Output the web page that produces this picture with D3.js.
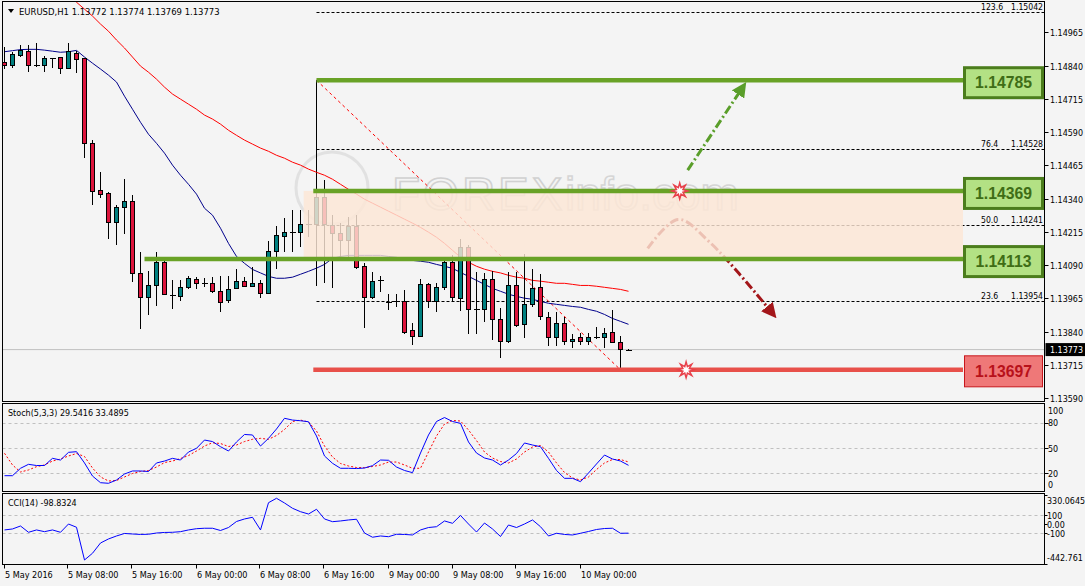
<!DOCTYPE html>
<html><head><meta charset="utf-8">
<script src="https://cdn.jsdelivr.net/npm/d3@7/dist/d3.min.js"></script>
<style>
html,body{margin:0;padding:0;background:#f4f4f4;}
svg{display:block;font-family:"DejaVu Sans Condensed","Liberation Sans",Arial,sans-serif;}
.box{font-family:"Liberation Sans",Arial,sans-serif;}
</style></head><body>
<svg id="c" width="1085" height="586"></svg>
<script>
// ---------------- DATA ----------------
const symbol = "EURUSD,H1";
const lastOHLC = ["1.13772", "1.13774", "1.13769", "1.13773"];
const stochTitle = "Stoch(5,3,3)", stochLast = ["29.5416", "33.4895"];
const cciTitle = "CCI(14)", cciLast = "-98.8324";
const open = [1.14853,1.14842,1.14879,1.14894,1.14842,1.14842,1.14868,1.14872,1.14830,1.14887,
 1.14868,1.14548,1.14372,1.14360,1.14251,1.14308,1.14330,1.14060,1.13969,1.14014,
 1.14101,1.13978,1.13973,1.14007,1.14037,1.14022,1.14022,1.13992,1.13958,1.14003,
 1.14029,1.14011,1.14022,1.13984,1.14142,1.14199,1.14214,1.14214,1.14244,1.14244,
 1.14345,1.14240,1.14210,1.14184,1.14236,1.14086,1.13969,1.14033,1.13951,1.13954,
 1.13954,1.13845,1.13823,1.14018,1.13954,1.14007,1.14101,1.13966,1.14157,1.13924,
 1.13924,1.14037,1.13887,1.13804,1.14014,1.13868,1.13943,1.14007,1.13894,1.13819,
 1.13872,1.13804,1.13819,1.13804,1.13819,1.13819,1.13838,1.13800,1.13772];
const high = [1.14909,1.14891,1.14917,1.14917,1.14924,1.14875,1.14869,1.14873,1.14924,1.14894,
 1.14869,1.14560,1.14439,1.14364,1.14315,1.14413,1.14353,1.14139,1.14067,1.14139,
 1.14112,1.14033,1.14033,1.14048,1.14045,1.14041,1.14045,1.14048,1.14048,1.14075,
 1.14045,1.14082,1.14033,1.14180,1.14236,1.14266,1.14296,1.14296,1.14296,1.14398,
 1.14409,1.14278,1.14248,1.14270,1.14278,1.14097,1.14063,1.14048,1.13981,1.13981,
 1.13996,1.13872,1.14037,1.14022,1.14022,1.14116,1.14127,1.14187,1.14165,1.14063,
 1.14060,1.14067,1.13928,1.14063,1.14063,1.14131,1.14075,1.14056,1.13913,1.13913,
 1.13894,1.13830,1.13834,1.13834,1.13857,1.13853,1.13920,1.13823,1.13774];
const low = [1.14827,1.14830,1.14872,1.14815,1.14834,1.14815,1.14831,1.14808,1.14828,1.14812,
 1.14492,1.14315,1.14342,1.14187,1.14165,1.14206,1.14026,1.13849,1.13902,1.13935,
 1.13977,1.13924,1.13954,1.13999,1.13999,1.14007,1.13984,1.13913,1.13947,1.13999,
 1.14007,1.14007,1.13966,1.13983,1.14075,1.14139,1.14139,1.14157,1.14195,1.14011,
 1.14022,1.14003,1.14116,1.14116,1.14075,1.13853,1.13962,1.13988,1.13920,1.13932,
 1.13830,1.13789,1.13819,1.13928,1.13913,1.13996,1.13954,1.13917,1.13830,1.13830,
 1.13875,1.13808,1.13740,1.13796,1.13857,1.13815,1.13932,1.13883,1.13785,1.13785,
 1.13789,1.13778,1.13789,1.13789,1.13811,1.13778,1.13800,1.13702,1.13769];
const close = [1.14842,1.14883,1.14898,1.14842,1.14841,1.14868,1.14867,1.14830,1.14891,1.14864,
 1.14548,1.14368,1.14357,1.14251,1.14308,1.14330,1.14060,1.13969,1.14014,1.14101,
 1.13979,1.13978,1.14007,1.14041,1.14022,1.14021,1.13992,1.13951,1.13999,1.14029,
 1.14011,1.14022,1.13984,1.14142,1.14202,1.14214,1.14213,1.14244,1.14243,1.14345,
 1.14244,1.14210,1.14184,1.14236,1.14082,1.13969,1.14029,1.14032,1.13950,1.13953,
 1.13838,1.13823,1.14018,1.13954,1.14007,1.14101,1.13969,1.14157,1.13924,1.13923,
 1.14037,1.13887,1.13804,1.14014,1.13864,1.13943,1.14003,1.13898,1.13819,1.13872,
 1.13804,1.13811,1.13804,1.13819,1.13818,1.13834,1.13800,1.13774,1.13773];
const maFast = [1.14892,1.14896,1.14900,1.14901,1.14901,1.14898,1.14894,1.14890,1.14892,1.14897,
 1.14872,1.14849,1.14827,1.14804,1.14778,1.14725,1.14676,1.14627,1.14582,1.14548,
 1.14511,1.14466,1.14428,1.14394,1.14357,1.14304,1.14278,1.14229,1.14172,1.14123,
 1.14097,1.14074,1.14061,1.14048,1.14041,1.14041,1.14045,1.14056,1.14067,1.14079,
 1.14093,1.14116,1.14123,1.14127,1.14127,1.14127,1.14127,1.14127,1.14123,1.14120,
 1.14112,1.14108,1.14105,1.14101,1.14093,1.14086,1.14078,1.14063,1.14048,1.14033,
 1.14018,1.14003,1.13992,1.13981,1.13973,1.13966,1.13962,1.13954,1.13947,1.13943,
 1.13939,1.13935,1.13932,1.13924,1.13917,1.13905,1.13890,1.13879,1.13868];
const maSlow = [null,null,null,null,null,null,null,null,1.15105,1.15078,
 1.15052,1.15026,1.14996,1.14969,1.14936,1.14906,1.14872,1.14838,1.14815,1.14789,
 1.14759,1.14733,1.14714,1.14695,1.14676,1.14654,1.14639,1.14620,1.14597,1.14578,
 1.14560,1.14545,1.14530,1.14518,1.14503,1.14492,1.14477,1.14466,1.14451,1.14439,
 1.14428,1.14413,1.14394,1.14375,1.14357,1.14338,1.14323,1.14308,1.14293,1.14278,
 1.14263,1.14248,1.14232,1.14214,1.14195,1.14172,1.14146,1.14120,1.14101,1.14086,
 1.14075,1.14067,1.14061,1.14052,1.14045,1.14041,1.14033,1.14030,1.14026,1.14022,
 1.14022,1.14018,1.14014,1.14014,1.14011,1.14007,1.14003,1.13999,1.13992];
const stochK = [17.2,17.2,26.0,30.7,29.3,29.3,37.8,35.8,44.9,45.7,
 32.3,16.8,8.9,8.2,12.1,19.2,22.8,22.8,22.2,32.3,
 34.6,37.8,35.8,45.3,49.7,59.5,57.7,51.6,46.5,57.2,
 66.1,65.5,52.4,61.5,72.6,85.3,83.2,82.4,81.2,64.3,
 40.6,31.9,26.0,26.0,25.7,26.3,29.1,35.8,35.5,27.5,
 23.4,20.8,44.1,65.5,81.5,86.2,81.5,79.3,57.2,44.1,
 38.2,35.8,29.9,35.8,43.5,56.0,53.6,51.6,37.8,23.4,
 14.1,14.1,10.1,20.4,31.1,41.7,37.0,34.6,29.54];
const stochD = [43.8,29.9,21.6,24.0,27.9,29.9,34.6,37.0,40.6,43.5,
 40.0,26.3,15.7,10.9,11.5,15.7,19.8,22.2,23.4,27.5,
 32.8,34.6,37.6,41.1,46.5,52.4,56.3,55.4,51.8,53.6,
 57.7,60.4,61.5,60.4,64.9,72.0,81.5,83.2,80.9,70.2,
 52.4,39.4,31.7,28.7,26.9,26.7,28.1,29.9,33.4,33.4,
 29.9,26.0,26.0,45.3,64.3,78.5,82.7,82.1,71.4,58.9,
 45.3,38.2,34.0,32.3,37.0,45.3,51.2,53.0,45.3,32.3,
 21.0,14.5,12.1,15.7,24.5,32.3,36.4,36.4,33.49];
const cci = [-63,-52,-19,-89,-63,-82,-63,-89,3,-33,
 -397,-322,-208,-163,-130,-102,-108,-113,-111,-97,
 -91,-89,-82,-63,-49,-44,-44,-69,-36,31,
 59,78,-63,240,289,237,178,140,114,167,
 59,29,37,48,56,-97,-144,-130,-138,-111,
 -113,-119,-63,-36,-27,37,11,98,3,-86,
 14,-52,-136,-8,-36,3,48,-27,-130,-100,
 -113,-119,-100,-80,-58,-47,-44,-100,-98.83];
const timeLabels = ["5 May 2016","5 May 08:00","5 May 16:00","6 May 00:00","6 May 08:00",
 "6 May 16:00","9 May 00:00","9 May 08:00","9 May 16:00","10 May 00:00"];
const timeLabelBars = [0,8,16,24,32,40,48,56,64,72];
const priceTicks = [1.14965,1.14840,1.14715,1.14590,1.14465,1.14340,1.14215,1.14090,1.13965,1.13840,1.13715,1.13590];
const fibLevels = ["123.6","76.4","50.0","23.6"];
const fibPrices = [1.15042,1.14528,1.14241,1.13954];
const fibAnchorBars = [39, 77];
const fibAnchorPrices = [1.14785, 1.13697];
const keyLevels = [1.14785, 1.14369, 1.14113, 1.13697];
const keyLevelStartBars = [39, 38.6, 17.5, 38.6];
const keyLevelKind = ["res","res","res","sup"];
const zoneTop = 1.14369, zoneBottom = 1.14113, zoneStartBar = 37.4;
const stochTicks = [100,80,50,20,0];
const stochLevels = [80,50,20];
const cciTickLabels = ["330.0645","100","0.00","-100","-442.761"];
const cciTickValues = [330.0645,100,0,-100,-442.761];
const cciLevels = [100,-100];
const upArrowBars = [85.4, 92.2], upArrowPrices = [1.14447, 1.14755];
const downArcBars = [80.4, 84.2, 88.2, 95.9], downArcPrices = [1.14153, 1.14262, 1.14175, 1.13913];
const starBars = [84.4, 85.2], starPrices = [1.14369, 1.13697];

// ---------------- LAYOUT ----------------
const svg = d3.select("#c");
const L = 2.5, R = 1044.5;
const main = {top: 1.5, bottom: 401.5};
const st = {top: 403.5, bottom: 491.5};
const cc = {top: 493.5, bottom: 564.5};
const N = open.length;
const x = d3.scaleLinear().domain([0, N - 1]).range([4.5, 4.5 + 8 * (N - 1)]);
const y = d3.scaleLinear().domain([1.13590, 1.14965]).range([398.3, 32.3]);
const ys = d3.scaleLinear().domain([0, 100]).range([490.2, 405.9]);
const yc = d3.scaleLinear().domain([-442.761, 330.0645]).range([564.1, 494.6]);
const boxLeft = 963;

// font size that makes a sample string reach a target width
function fitSize(str, target, weight, cls) {
  const t = svg.append("text").attr("font-size", 20).attr("font-weight", weight || "normal").attr("class", cls || null).text(str);
  const w = t.node().getComputedTextLength();
  t.remove();
  return 20 * target / w;
}
const fsTitle = fitSize(symbol + "  " + lastOHLC.join(" "), 201);
const fsInd = fitSize(stochTitle + " " + stochLast.join(" "), 121);
const fsAxis = fitSize("1.14965", 33);
const fsTime = fitSize("5 May 08:00", 50.5);
const fsFib = fitSize("1.15042", 32);
const fsBox = fitSize("1.14785", 57, "bold", "box");

svg.append("rect").attr("width", 1085).attr("height", 586).attr("fill", "#f4f4f4");
const defs = svg.append("defs");
[["clipMain", main], ["clipSt", st], ["clipCc", cc]].forEach(([id, p]) => {
  defs.append("clipPath").attr("id", id).append("rect")
    .attr("x", L).attr("y", p.top).attr("width", R - L).attr("height", p.bottom - p.top);
});
defs.append("marker").attr("id", "arrG").attr("viewBox", "0 0 10 10").attr("refX", 5).attr("refY", 5)
  .attr("markerWidth", 5).attr("markerHeight", 5).attr("orient", "auto")
  .append("path").attr("d", "M0,0L10,5L0,10z").attr("fill", "#5a9e2a");
defs.append("marker").attr("id", "arrR").attr("viewBox", "0 0 10 10").attr("refX", 5).attr("refY", 5)
  .attr("markerWidth", 5).attr("markerHeight", 5).attr("orient", "auto")
  .append("path").attr("d", "M0,0L10,5L0,10z").attr("fill", "#a3161a");

const gm = svg.append("g").attr("clip-path", "url(#clipMain)");

// watermark
const wm = gm.append("g").attr("opacity", 0.5).attr("class", "box");
wm.append("circle").attr("cx", 332).attr("cy", 188).attr("r", 36).attr("fill", "none").attr("stroke", "#d0d0d0").attr("stroke-width", 3);
wm.append("text").attr("x", 392).attr("y", 210).attr("font-size", 46)
  .attr("fill", "none").attr("stroke", "#b0b0b0").attr("stroke-width", 1.6).attr("letter-spacing", 3)
  .text("FOREX");
wm.append("text").attr("x", 565).attr("y", 210).attr("font-size", 46)
  .attr("fill", "none").attr("stroke", "#b8b8b8").attr("stroke-width", 1.6)
  .text("info.com");

// bid line
gm.append("line").attr("x1", L).attr("x2", R).attr("y1", y(+lastOHLC[3])).attr("y2", y(+lastOHLC[3]))
  .attr("stroke", "#c0c0c0").attr("stroke-width", 1);

// fib dashed lines (drawn under zone)
const fibG = gm.append("g");
fibPrices.forEach((p) => {
  const yy = Math.round(y(p)) + 0.5;
  fibG.append("line").attr("x1", x(fibAnchorBars[0])).attr("x2", R).attr("y1", yy).attr("y2", yy)
    .attr("stroke", "#000").attr("stroke-dasharray", "3,2");
});
fibG.append("line").attr("x1", x(fibAnchorBars[0])).attr("x2", x(fibAnchorBars[1]))
  .attr("y1", y(fibAnchorPrices[0])).attr("y2", y(fibAnchorPrices[1]))
  .attr("stroke", "#ff0000").attr("stroke-dasharray", "3,3");
fibG.append("line").attr("x1", Math.round(x(fibAnchorBars[0])) - 0.5).attr("x2", Math.round(x(fibAnchorBars[0])) - 0.5)
  .attr("y1", y(fibAnchorPrices[0])).attr("y2", y(zoneTop)).attr("stroke", "#000");

// moving averages
const line = d3.line().defined(d => d != null).x((d, i) => x(i)).y(d => y(d));
gm.append("path").attr("d", line(maSlow)).attr("fill", "none").attr("stroke", "#ff0000").attr("stroke-width", 1);
gm.append("path").attr("d", line(maFast)).attr("fill", "none").attr("stroke", "#00008b").attr("stroke-width", 1);

// candles
const cg = gm.append("g").attr("shape-rendering", "crispEdges");
d3.range(N).forEach(i => {
  const cx = x(i);
  cg.append("line").attr("x1", cx).attr("x2", cx).attr("y1", y(high[i])).attr("y2", y(low[i])).attr("stroke", "#000");
  const yo = y(open[i]), yc2 = y(close[i]);
  if (Math.abs(yo - yc2) < 1.2) {
    cg.append("line").attr("x1", cx - 3).attr("x2", cx + 3).attr("y1", Math.round(yo) + 0.5).attr("y2", Math.round(yo) + 0.5)
      .attr("stroke", "#000").attr("stroke-width", 1.5);
  } else {
    cg.append("rect").attr("x", cx - 2).attr("width", 4)
      .attr("y", Math.min(yo, yc2)).attr("height", Math.abs(yo - yc2))
      .attr("fill", close[i] > open[i] ? "#008080" : "#dc143c").attr("stroke", "#000");
  }
});

// down arrow (partly under the zone)
const arcLine = d3.line().curve(d3.curveCatmullRom).x(d => x(d[0])).y(d => y(d[1]));
gm.append("path").attr("d", arcLine(downArcBars.map((b, i) => [b, downArcPrices[i]])))
  .attr("fill", "none").attr("stroke", "#a3161a").attr("stroke-width", 3)
  .attr("stroke-dasharray", "9,3,2,3").attr("marker-end", "url(#arrR)");

// zone overlay
gm.append("rect").attr("x", x(zoneStartBar)).attr("width", boxLeft - x(zoneStartBar))
  .attr("y", y(zoneTop)).attr("height", y(zoneBottom) - y(zoneTop))
  .attr("fill", "#fce6d6").attr("opacity", 0.82);

gm.append("line").attr("x1", x(upArrowBars[0])).attr("y1", y(upArrowPrices[0]))
  .attr("x2", x(upArrowBars[1])).attr("y2", y(upArrowPrices[1]))
  .attr("stroke", "#5a9e2a").attr("stroke-width", 3).attr("stroke-dasharray", "9,3,2,3")
  .attr("marker-end", "url(#arrG)");

// key levels
keyLevels.forEach((p, i) => {
  gm.append("line").attr("x1", x(keyLevelStartBars[i])).attr("x2", boxLeft)
    .attr("y1", y(p)).attr("y2", y(p))
    .attr("stroke", keyLevelKind[i] === "res" ? "#69a226" : "#e8504a").attr("stroke-width", 4.5);
});

// stars
function star(cx, cy) {
  const pts = d3.range(16).map(k => {
    const a = k * Math.PI / 8, r = k % 2 ? 3.5 : 8;
    return [cx + r * Math.cos(a), cy + r * Math.sin(a)];
  });
  gm.append("path").attr("d", "M" + pts.join("L") + "Z").attr("fill", "#fff").attr("stroke", "#e8404a").attr("stroke-width", 1.5);
}
starBars.forEach((b, i) => star(x(b), y(starPrices[i])));

// fib labels
fibPrices.forEach((p, i) => {
  const yy = Math.round(y(p)) - 2;
  svg.append("text").attr("x", 981).attr("y", yy).attr("font-size", fsFib).attr("fill", "#000").text(fibLevels[i]);
  svg.append("text").attr("x", 1043).attr("y", yy).attr("font-size", fsFib).attr("text-anchor", "end").attr("fill", "#000").text(p.toFixed(5));
});

// level boxes
keyLevels.forEach((p, i) => {
  const cy = y(p) + 2;
  const g = svg.append("g").attr("class", "box");
  if (keyLevelKind[i] === "res") {
    g.append("rect").attr("x", boxLeft + 1.5).attr("y", cy - 14.5).attr("width", 78).attr("height", 30)
      .attr("fill", "#b3e184").attr("stroke", "#4b7d1c").attr("stroke-width", 3);
    g.append("text").attr("x", boxLeft + 40.5).attr("y", cy + 6).attr("text-anchor", "middle")
      .attr("font-size", fsBox).attr("font-weight", "bold").attr("fill", "#3f6d16").text(p.toFixed(5));
  } else {
    g.append("rect").attr("x", boxLeft + 1.5).attr("y", cy - 16).attr("width", 78).attr("height", 31)
      .attr("fill", "#ef7878").attr("stroke", "#c8161c").attr("stroke-width", 1);
    g.append("text").attr("x", boxLeft + 40.5).attr("y", cy + 5).attr("text-anchor", "middle")
      .attr("font-size", fsBox).attr("font-weight", "bold").attr("fill", "#b8111a").text(p.toFixed(5));
  }
});

// title
svg.append("path").attr("d", "M8,9L14,9L11,13Z").attr("fill", "#000");
svg.append("text").attr("x", 19).attr("y", 15).attr("font-size", fsTitle).attr("fill", "#000")
  .text(symbol + "  " + lastOHLC.join(" "));

// price axis
priceTicks.forEach(p => {
  const yy = Math.round(y(p)) + 0.5;
  svg.append("line").attr("x1", R).attr("x2", R + 4).attr("y1", yy).attr("y2", yy).attr("stroke", "#000");
  svg.append("text").attr("x", 1050).attr("y", yy + 3.5).attr("font-size", fsAxis).attr("fill", "#000").text(p.toFixed(5));
});
const by = y(+lastOHLC[3]);
svg.append("rect").attr("x", R + 1).attr("y", by - 6.5).attr("width", 1085 - R).attr("height", 13).attr("fill", "#000");
svg.append("text").attr("x", 1050).attr("y", by + 3.5).attr("font-size", fsAxis).attr("fill", "#fff").text(lastOHLC[3]);

// ---------------- STOCH ----------------
const gs = svg.append("g").attr("clip-path", "url(#clipSt)");
stochLevels.forEach(v => {
  const yy = Math.round(ys(v)) + 0.5;
  gs.append("line").attr("x1", L).attr("x2", R).attr("y1", yy).attr("y2", yy).attr("stroke", "#c0c0c0").attr("stroke-dasharray", "3,3");
});
const sline = d3.line().x((d, i) => x(i)).y(d => ys(d));
gs.append("path").attr("d", sline(stochD)).attr("fill", "none").attr("stroke", "#ff0000").attr("stroke-dasharray", "2,2");
gs.append("path").attr("d", sline(stochK)).attr("fill", "none").attr("stroke", "#0000ff");
svg.append("text").attr("x", 8).attr("y", 415.5).attr("font-size", fsInd).text(stochTitle + " " + stochLast.join(" "));
const stLabelShift = {100: 5, 0: -6};
stochTicks.forEach(v => {
  const yy = Math.round(ys(v)) + 0.5;
  if (stLabelShift[v] === undefined) svg.append("line").attr("x1", R).attr("x2", R + 4).attr("y1", yy).attr("y2", yy).attr("stroke", "#000");
  svg.append("text").attr("x", 1048).attr("y", ys(v) + (stLabelShift[v] || 0) + 3.5).attr("font-size", fsAxis).text(v);
});

// ---------------- CCI ----------------
const gc = svg.append("g").attr("clip-path", "url(#clipCc)");
cciLevels.forEach(v => {
  const yy = Math.round(yc(v)) + 0.5;
  gc.append("line").attr("x1", L).attr("x2", R).attr("y1", yy).attr("y2", yy).attr("stroke", "#c0c0c0").attr("stroke-dasharray", "3,3");
});
const cline = d3.line().x((d, i) => x(i)).y(d => yc(d));
gc.append("path").attr("d", cline(cci)).attr("fill", "none").attr("stroke", "#0000ff");
svg.append("text").attr("x", 8).attr("y", 505.5).attr("font-size", fsInd).text(cciTitle + " " + cciLast);
const ccShift = [5.5, 0, 0, 0, -7];
cciTickValues.forEach((v, i) => {
  const yy = Math.round(yc(v)) + 0.5;
  svg.append("line").attr("x1", R).attr("x2", R + 3).attr("y1", yy).attr("y2", yy).attr("stroke", "#000");
  svg.append("text").attr("x", 1047).attr("y", yc(v) + ccShift[i] + 3.5).attr("font-size", fsAxis).text(cciTickLabels[i]);
});

// ---------------- FRAMES ----------------
[main, st, cc].forEach(p => {
  svg.append("rect").attr("x", L).attr("y", p.top).attr("width", R - L).attr("height", p.bottom - p.top)
    .attr("fill", "none").attr("stroke", "#000");
});

// time axis
timeLabelBars.forEach((b, i) => {
  const xx = Math.round(x(b)) - 0.5;
  svg.append("line").attr("x1", xx).attr("x2", xx).attr("y1", cc.bottom).attr("y2", cc.bottom + 4).attr("stroke", "#000");
  svg.append("text").attr("x", xx + 0.5).attr("y", 578).attr("font-size", fsTime).text(timeLabels[i]);
});
</script>
</body></html>
